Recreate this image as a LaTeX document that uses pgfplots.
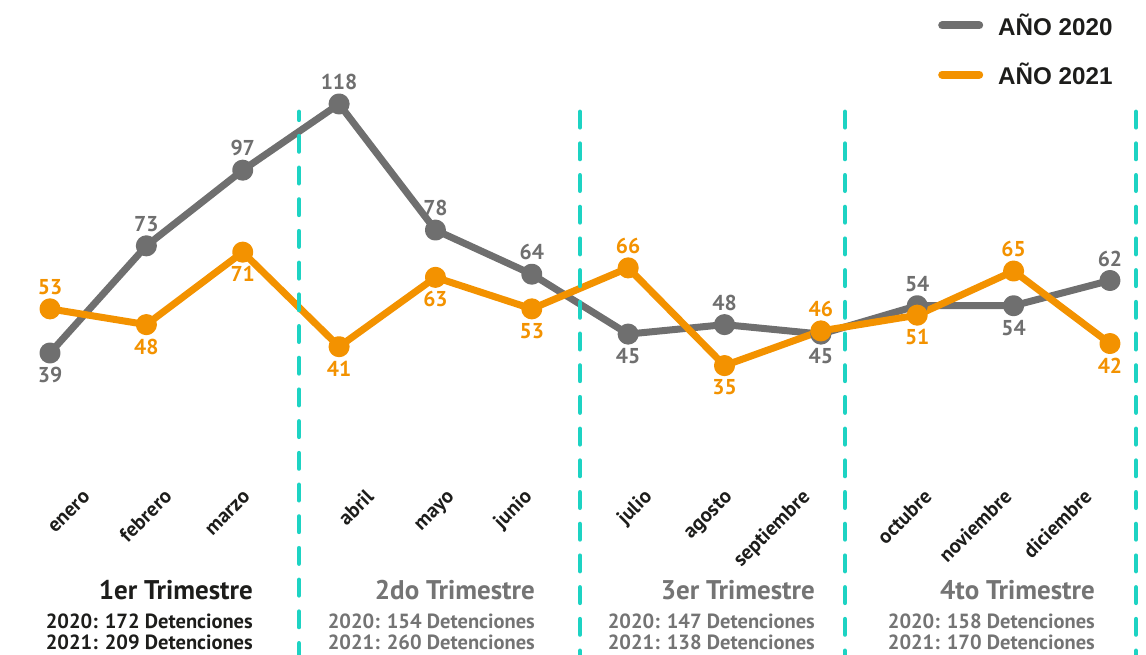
\documentclass[border=0pt]{standalone}
\usepackage{pgfplots}
\pgfplotsset{compat=1.18}
\usepackage{pgfplotstable}
\usepackage{fontspec}
\setmainfont{PT Sans}
\newfontfamily\legfont{Liberation Sans}
\definecolor{gr}{HTML}{6F6F6F}
\definecolor{orng}{HTML}{F39200}
\definecolor{cy}{HTML}{1DD3C3}
\definecolor{dark}{HTML}{1D1D1B}
\definecolor{lgray}{HTML}{747474}

\pgfplotstableread{
x y dy
0 39 -22
1 73 22
2 97 22
3 118 22
4 78 22
5 64 22
6 45 -22
7 48 22
8 45 -22
9 54 22
10 54 -22
11 62 22
}\dataA

\pgfplotstableread{
x y dy
0 53 22
1 48 -22
2 71 -22
3 41 -22
4 63 -22
5 53 -22
6 66 22
7 35 -22
8 46 22
9 51 -22
10 65 22
11 42 -22
}\dataB

\begin{document}
\begin{tikzpicture}
\begin{axis}[
  at={(0,0)}, anchor=south west,
  scale only axis, width=1146pt, height=655pt,
  xmin=-0.5189, xmax=11.3740, ymin=-56.81, ymax=150.99,
  hide axis, clip=false,
  /pgf/number format/assume math mode=true,
  legend cell align=left,
  legend style={at={(rel axis cs:0.8185,0.979)}, anchor=north west,
    draw=none, fill=none, inner sep=0pt, row sep=26pt,
    font=\legfont\bfseries\fontsize{24.2}{25}\selectfont, text=dark,
    nodes={inner sep=0pt},
    /tikz/every odd column/.append style={column sep=15pt}},
  legend image code/.code={\draw[#1, line width=8pt, line cap=round] (4pt,0pt) -- (41pt,0pt);},
]
\addplot[gr, line width=7pt, line join=round, mark=*, mark size=7pt,
  mark options={draw=none, fill=gr}] table[x=x,y=y] {\dataA};
\addlegendentry{AÑO 2020}
\addplot[orng, line width=7pt, line join=round, mark=*, mark size=7pt,
  mark options={draw=none, fill=orng}] table[x=x,y=y] {\dataB};
\addlegendentry{AÑO 2021}

\addplot[forget plot, cy, line width=4.5pt, line cap=round, dash pattern=on 15.5pt off 16.2pt, dash phase=7.5pt] coordinates {(2.584,115.5) (2.584,-58)};
\addplot[forget plot, cy, line width=4.5pt, line cap=round, dash pattern=on 15.5pt off 16.2pt] coordinates {(5.500,115.5) (5.500,-58)};
\addplot[forget plot, cy, line width=4.5pt, line cap=round, dash pattern=on 15.5pt off 16.2pt] coordinates {(8.250,115.5) (8.250,-58)};
\addplot[forget plot, cy, line width=4.5pt, line cap=round, dash pattern=on 15.5pt off 16.2pt] coordinates {(11.270,115.5) (11.270,-58)};

\addplot[forget plot, draw=none, mark=none, nodes near coords,
  visualization depends on={\thisrow{dy}\as\mydy},
  every node near coord/.append style={anchor=center, yshift=\mydy pt,
    font=\bfseries\fontsize{21.5}{22}\selectfont, text=gr, inner sep=0pt}]
  table[x=x,y=y] {\dataA};
\addplot[forget plot, draw=none, mark=none, nodes near coords,
  visualization depends on={\thisrow{dy}\as\mydy},
  every node near coord/.append style={anchor=center, yshift=\mydy pt,
    font=\bfseries\fontsize{21.5}{22}\selectfont, text=orng, inner sep=0pt}]
  table[x=x,y=y] {\dataB};
\end{axis}

\foreach \x/\t in {88/enero,170/febrero,248/marzo,372/abril,452/mayo,530/junio,650/julio,730/agosto,808/septiembre,930/octubre,1010/noviembre,1090/diciembre}
  \node[rotate=45, anchor=base east, inner sep=0pt, font=\bfseries\fontsize{20.5}{21}\selectfont, text=dark] at (\x pt+3pt, 157pt) {\t};

\node[anchor=base east, inner sep=0pt, font=\bfseries\fontsize{27}{27}\selectfont, text=dark] at (253pt,55pt) {1er Trimestre};
\node[anchor=base east, inner sep=0pt, font=\bfseries\fontsize{20.5}{21}\selectfont, text=dark] at (253pt,26pt) {2020: 172 Detenciones};
\node[anchor=base east, inner sep=0pt, font=\bfseries\fontsize{20.5}{21}\selectfont, text=dark] at (253pt,5pt) {2021: 209 Detenciones};

\node[anchor=base east, inner sep=0pt, font=\bfseries\fontsize{27}{27}\selectfont, text=lgray] at (535pt,55pt) {2do Trimestre};
\node[anchor=base east, inner sep=0pt, font=\bfseries\fontsize{20.5}{21}\selectfont, text=lgray] at (535pt,26pt) {2020: 154 Detenciones};
\node[anchor=base east, inner sep=0pt, font=\bfseries\fontsize{20.5}{21}\selectfont, text=lgray] at (535pt,5pt) {2021: 260 Detenciones};

\node[anchor=base east, inner sep=0pt, font=\bfseries\fontsize{27}{27}\selectfont, text=lgray] at (815pt,55pt) {3er Trimestre};
\node[anchor=base east, inner sep=0pt, font=\bfseries\fontsize{20.5}{21}\selectfont, text=lgray] at (815pt,26pt) {2020: 147 Detenciones};
\node[anchor=base east, inner sep=0pt, font=\bfseries\fontsize{20.5}{21}\selectfont, text=lgray] at (815pt,5pt) {2021: 138 Detenciones};

\node[anchor=base east, inner sep=0pt, font=\bfseries\fontsize{27}{27}\selectfont, text=lgray] at (1095pt,55pt) {4to Trimestre};
\node[anchor=base east, inner sep=0pt, font=\bfseries\fontsize{20.5}{21}\selectfont, text=lgray] at (1095pt,26pt) {2020: 158 Detenciones};
\node[anchor=base east, inner sep=0pt, font=\bfseries\fontsize{20.5}{21}\selectfont, text=lgray] at (1095pt,5pt) {2021: 170 Detenciones};

\pgfresetboundingbox
\useasboundingbox (0,0) rectangle (1146pt,655pt);
\end{tikzpicture}
\end{document}
